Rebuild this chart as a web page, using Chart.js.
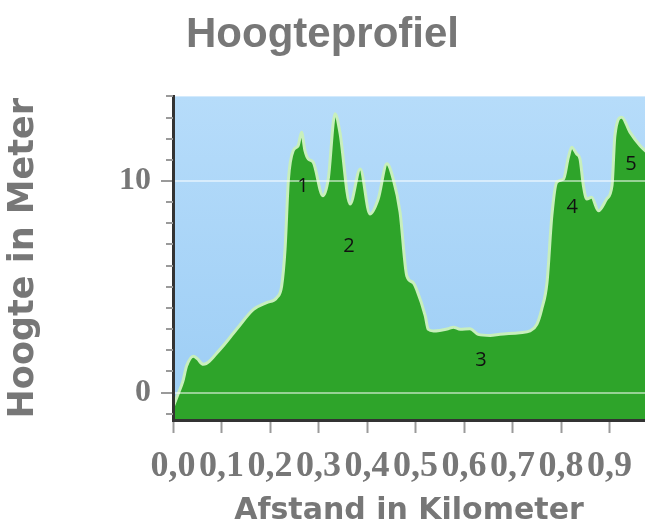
<!DOCTYPE html>
<html><head><meta charset="utf-8">
<script src="https://cdn.jsdelivr.net/npm/chart.js@4/dist/chart.umd.min.js"></script>
<style>html,body{margin:0;padding:0;background:#fff}#wrap{width:645px;height:528px;position:relative}</style>
</head><body><div id="wrap"><canvas id="c" width="645" height="528"></canvas></div>
<script>
const distanceKm = [0, 0.01, 0.02, 0.028, 0.042, 0.05, 0.0625, 0.097, 0.131, 0.166, 0.193, 0.214, 0.224, 0.231, 0.238, 0.248, 0.258, 0.265, 0.272, 0.279, 0.289, 0.309, 0.320, 0.334, 0.344, 0.365, 0.386, 0.406, 0.423, 0.441, 0.454, 0.468, 0.482, 0.495, 0.502, 0.520, 0.526, 0.537, 0.568, 0.578, 0.592, 0.612, 0.629, 0.654, 0.674, 0.715, 0.736, 0.750, 0.760, 0.771, 0.781, 0.791, 0.805, 0.815, 0.822, 0.832, 0.839, 0.846, 0.853, 0.863, 0.877, 0.894, 0.905, 0.911, 0.925, 0.942, 0.963, 0.98];
const elevationM = [-0.7, -0.1, 0.5, 1.25, 1.72, 1.6, 1.33, 2.04, 2.99, 3.93, 4.25, 4.49, 5.04, 6.78, 10.09, 11.44, 11.67, 12.31, 11.44, 11.04, 10.89, 9.3, 10.09, 13.18, 12.31, 8.91, 10.57, 8.44, 9.15, 10.81, 10.09, 8.53, 5.51, 5.2, 4.88, 3.62, 2.99, 2.91, 3.02, 3.09, 2.99, 3.02, 2.75, 2.7, 2.75, 2.83, 2.91, 3.22, 3.93, 5.2, 8.36, 9.94, 10.09, 11.12, 11.6, 11.28, 11.04, 9.78, 9.15, 9.23, 8.59, 9.15, 9.78, 12.15, 13.02, 12.31, 11.67, 11.3];
const xTickValues = [0, 0.1, 0.2, 0.3, 0.4, 0.5, 0.6, 0.7, 0.8, 0.9];
const yTickValues = [-1, 0, 1, 2, 3, 4, 5, 6, 7, 8, 9, 10, 11, 12, 13, 14];
const yLabelValues = [0, 10];
const markerTexts = ['1', '2', '3', '4', '5'];
const markerKm = [0.268, 0.363, 0.635, 0.823, 0.944];
const markerM = [9.76, 6.92, 1.52, 8.77, 10.8];

const GRAY = '#777777';
const isLabelled = v => yLabelValues.some(l => Math.abs(l - v) < 1e-9);

const bgPlugin = {
  id: 'plotBg',
  beforeDraw(chart) {
    const {ctx, chartArea: a} = chart;
    const g = ctx.createLinearGradient(0, a.top, 0, a.bottom);
    g.addColorStop(0, '#b6dcfa');
    g.addColorStop(1, '#9ccdf5');
    ctx.save();
    ctx.fillStyle = g;
    ctx.fillRect(a.left, a.top, a.right - a.left, a.bottom - a.top);
    ctx.restore();
  }
};

const minorTickPlugin = {
  id: 'minorTicks',
  afterDraw(chart) {
    const {ctx} = chart;
    const y = chart.scales.y;
    ctx.save();
    ctx.strokeStyle = '#9a9a9a';
    ctx.lineWidth = 2;
    yTickValues.forEach(v => {
      if (isLabelled(v)) return;
      const py = Math.round(y.getPixelForValue(v));
      ctx.beginPath();
      ctx.moveTo(y.right - 7, py);
      ctx.lineTo(y.right, py);
      ctx.stroke();
    });
    ctx.restore();
  }
};

const markerPlugin = {
  id: 'markers',
  afterDraw(chart) {
    const {ctx, scales: {x, y}} = chart;
    ctx.save();
    ctx.fillStyle = '#111111';
    ctx.font = '20px "Open Sans", sans-serif';
    ctx.textAlign = 'center';
    ctx.textBaseline = 'middle';
    markerTexts.forEach((t, i) => {
      ctx.fillText(t, x.getPixelForValue(markerKm[i]), y.getPixelForValue(markerM[i]));
    });
    ctx.restore();
  }
};

new Chart(document.getElementById('c'), {
  type: 'line',
  data: {
    datasets: [{
      data: distanceKm.map((d, i) => ({x: d, y: elevationM[i]})),
      fill: 'start',
      backgroundColor: '#2ea42a',
      borderColor: '#c8efbc',
      borderWidth: 3,
      pointRadius: 0,
      cubicInterpolationMode: 'monotone'
    }]
  },
  options: {
    responsive: false,
    animation: false,
    devicePixelRatio: 1,
    layout: {padding: {left: 0, right: 0, top: 0, bottom: 0}},
    plugins: {
      legend: {display: false},
      tooltip: {enabled: false},
      title: {
        display: true,
        text: 'Hoogteprofiel',
        color: GRAY,
        font: {family: '"Liberation Sans", Arial, sans-serif', weight: 'bold', size: 42},
        padding: {top: 10, bottom: 36}
      }
    },
    scales: {
      x: {
        type: 'linear',
        min: 0,
        max: 0.973,
        afterBuildTicks: s => { s.ticks = xTickValues.map(v => ({value: v})); },
        afterFit: s => { s.height = 108; },
        ticks: {
          autoSkip: false,
          maxRotation: 0,
          padding: 12,
          color: GRAY,
          font: {family: '"Liberation Serif", serif', weight: 'bold', size: 36},
          callback: v => Number(v).toFixed(1).replace('.', ',')
        },
        grid: {drawOnChartArea: false, tickLength: 13, tickColor: '#9a9a9a', tickWidth: 2},
        border: {display: true, color: '#333333', width: 3, z: 2},
        title: {
          display: true,
          text: 'Afstand in Kilometer',
          color: GRAY,
          font: {family: '"DejaVu Sans", sans-serif', weight: 'bold', size: 30, lineHeight: 1.1},
          padding: {top: 0, bottom: 0}
        }
      },
      y: {
        min: -1.3,
        max: 14,
        afterBuildTicks: s => { s.ticks = yTickValues.map(v => ({value: v})); },
        afterFit: s => { s.width = 173; },
        ticks: {
          autoSkip: false,
          padding: 10,
          color: GRAY,
          font: {family: '"Liberation Serif", serif', weight: 'bold', size: 32},
          callback: v => isLabelled(v) ? String(v) : ''
        },
        grid: {
          z: 1,
          color: c => (c.tick && isLabelled(c.tick.value)) ? 'rgba(255,255,255,0.5)' : 'rgba(0,0,0,0)',
          lineWidth: 2,
          tickLength: 12,
          tickWidth: 2,
          tickColor: c => (c.tick && isLabelled(c.tick.value)) ? '#9a9a9a' : 'rgba(0,0,0,0)'
        },
        border: {display: true, color: '#333333', width: 3, z: 2},
        title: {
          display: true,
          text: 'Hoogte in Meter',
          color: GRAY,
          font: {family: '"DejaVu Sans", sans-serif', weight: 'bold', size: 35, lineHeight: 1.2},
          padding: {top: 3, bottom: 0}
        }
      }
    }
  },
  plugins: [bgPlugin, minorTickPlugin, markerPlugin]
});
</script>
</body></html>
